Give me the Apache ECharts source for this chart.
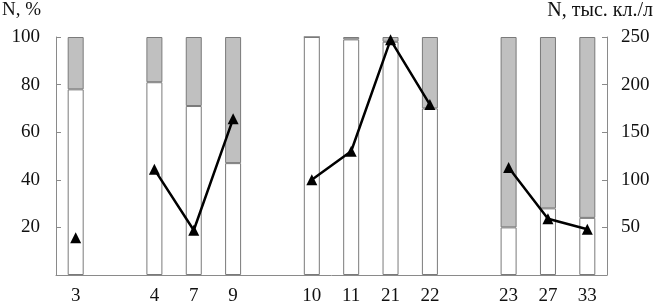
<!DOCTYPE html>
<html><head><meta charset="utf-8">
<script src="https://cdn.jsdelivr.net/npm/echarts@6/dist/echarts.min.js"></script>
<style>html,body{margin:0;padding:0;background:#fff}#c{width:654px;height:306px}</style>
</head><body><div id="c"></div>
<script>
var categories = ['3', '', '4', '7', '9', '', '10', '11', '21', '22', '', '23', '27', '33'];
var whiteShare = [78, null, 81, 71, 47, null, 100, 99, 98, 70, null, 20, 28, 24];
var grayShare = [22, null, 19, 29, 53, null, 0, 1, 2, 30, null, 80, 72, 76];
var density = [39, null, 111, 47, 164, null, 100, 130, 247, 179, null, 113, 59, 48];
var leftTicks = [0, 20, 40, 60, 80, 100];
var rightTicks = [0, 50, 100, 150, 200, 250];
var leftName = 'N, %';
var rightName = 'N, тыс. кл./л';

var font = '"Liberation Serif", "DejaVu Serif", serif';
var axisGray = '#8a8a8a';
var chart = echarts.init(document.getElementById('c'), null, {renderer: 'canvas'});
chart.setOption({
  animation: false,
  textStyle: {fontFamily: font},
  grid: {left: 56, right: 47, top: 37, bottom: 31, containLabel: false, outerBoundsMode: 'none'},
  graphic: [
    {type: 'text', left: 2, top: 1, style: {text: leftName, font: '19px ' + font, fill: '#111'}},
    {type: 'text', right: 1, top: 1, style: {text: rightName, font: '20px ' + font, fill: '#111'}}
  ],
  xAxis: {
    type: 'category', data: categories, boundaryGap: true,
    axisLine: {lineStyle: {color: axisGray, width: 1}},
    axisTick: {inside: true, length: 5, alignWithLabel: false, lineStyle: {color: axisGray}},
    axisLabel: {color: '#111', fontFamily: font, fontSize: 19, margin: 12, interval: 0}
  },
  yAxis: [{
    type: 'value', min: leftTicks[0], max: leftTicks[leftTicks.length - 1], interval: 20,
    axisLine: {show: true, lineStyle: {color: axisGray}},
    axisTick: {show: true, inside: true, length: 5, lineStyle: {color: axisGray}},
    splitLine: {show: false},
    axisLabel: {color: '#111', fontFamily: font, fontSize: 19, margin: 16,
      formatter: function (v) { return v === 0 ? '' : v; }}
  }, {
    type: 'value', min: rightTicks[0], max: rightTicks[rightTicks.length - 1], interval: 50,
    axisLine: {show: true, lineStyle: {color: axisGray}},
    axisTick: {show: true, inside: true, length: 5, lineStyle: {color: axisGray}},
    splitLine: {show: false},
    axisLabel: {color: '#111', fontFamily: font, fontSize: 19, margin: 14,
      formatter: function (v) { return v === 0 ? '' : v; }}
  }],
  series: [{
    type: 'bar', stack: 's', data: whiteShare, barWidth: 16,
    itemStyle: {color: '#ffffff', borderColor: '#7a7a7a', borderWidth: 1}
  }, {
    type: 'bar', stack: 's', data: grayShare, barWidth: 16,
    itemStyle: {color: '#c0c0c0', borderColor: '#7a7a7a', borderWidth: 1}
  }, {
    type: 'line', yAxisIndex: 1, data: density, connectNulls: false,
    symbol: 'triangle', symbolSize: 11, showAllSymbol: true,
    lineStyle: {color: '#000', width: 2.5},
    itemStyle: {color: '#000'}, z: 5
  }]
});
</script></body></html>
